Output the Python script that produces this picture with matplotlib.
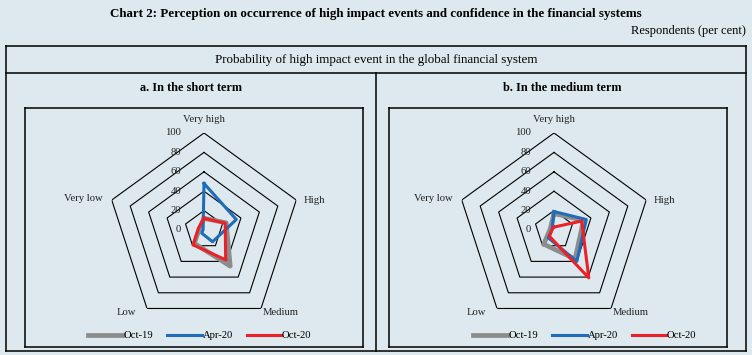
import numpy as np
import matplotlib
matplotlib.use("Agg")
import matplotlib.pyplot as plt
from matplotlib.lines import Line2D

# Data (respondents, per cent)
categories = ["Very high", "High", "Medium", "Low", "Very low"]
series_names = ["Oct-19", "Apr-20", "Oct-20"]
short_oct19 = [12, 24, 46, 17, 5]
short_apr20 = [48, 35, 15, 4, 1]
short_oct20 = [12, 23, 38, 19, 6]
medium_oct19 = [17, 32, 37, 18, 4]
medium_apr20 = [19, 35, 40, 10, 2]
medium_oct20 = [3, 30, 61, 8, 2]
ring_levels = [0, 20, 40, 60, 80, 100]

COLORS = ["#8c8c8c", "#1f6cb8", "#ec2127"]
WIDTHS = [3.4, 2.2, 2.2]
BG = "#dde9ee"
W, H = 752, 355

plt.rcParams["font.family"] = ["Liberation Serif", "DejaVu Serif"]

fig = plt.figure(figsize=(W / 100, H / 100), dpi=100, facecolor=BG)


def fx(x):
    return x / W


def fy(y):
    return 1 - y / H


def hline(x0, x1, y):
    fig.add_artist(Line2D([fx(x0), fx(x1)], [fy(y), fy(y)], color="black", lw=1.1))


def vline(x, y0, y1):
    fig.add_artist(Line2D([fx(x), fx(x)], [fy(y0), fy(y1)], color="black", lw=1.1))


def box(x0, y0, x1, y1):
    hline(x0, x1, y0)
    hline(x0, x1, y1)
    vline(x0, y0, y1)
    vline(x1, y0, y1)


# Frames
box(6, 46, 746, 350.5)
hline(6, 746, 73)
vline(376, 73, 350.5)
box(25, 108, 363, 347)
box(389, 108, 727, 347)

# Headings
fig.text(0.5, fy(14), "Chart 2: Perception on occurrence of high impact events and confidence in the financial systems",
         ha="center", va="center", fontsize=9.4, fontweight="bold")
fig.text(fx(746), fy(31), "Respondents (per cent)", ha="right", va="center", fontsize=9)
fig.text(0.5, fy(60), "Probability of high impact event in the global financial system",
         ha="center", va="center", fontsize=9.4)
fig.text(fx(191), fy(88), "a. In the short term", ha="center", va="center", fontsize=8.8, fontweight="bold")
fig.text(fx(562), fy(88), "b. In the medium term", ha="center", va="center", fontsize=8.8, fontweight="bold")

theta = np.arange(len(categories)) * 2 * np.pi / len(categories)
theta_closed = np.append(theta, theta[0])

# label offsets (points) from each outer vertex
label_off = [(0, 10), (5, 0), (1.5, -3), (-8, -3), (-6.5, 1)]
label_ha = ["center", "left", "left", "right", "right"]


def radar(cx, cy, data, legend_x):
    R = 97
    ax = fig.add_axes([fx(cx - R), fy(cy + R), 2 * R / W, 2 * R / H], projection="polar")
    ax.set_facecolor("none")
    ax.set_theta_zero_location("N")
    ax.set_theta_direction(-1)
    ax.set_ylim(0, 100)
    ax.grid(False)
    ax.spines["polar"].set_visible(False)
    ax.set_xticks([])
    ax.set_yticks([])

    for lvl in ring_levels[1:]:
        ax.plot(theta_closed, [lvl] * len(theta_closed), color="black", lw=0.8, zorder=1)
    for lvl in ring_levels:
        ax.annotate(str(lvl), xy=(0, lvl), xytext=(-16.5, 0), textcoords="offset points",
                    ha="right", va="center", fontsize=7.7, color="#222222")

    for i, cat in enumerate(categories):
        ax.annotate(cat, xy=(theta[i], 100), xytext=label_off[i], textcoords="offset points",
                    ha=label_ha[i], va="center", fontsize=7.7, color="#222222",
                    annotation_clip=False)

    handles = []
    for vals, name, c, lw in zip(data, series_names, COLORS, WIDTHS):
        v = np.append(vals, vals[0])
        h, = ax.plot(theta_closed, v, color=c, lw=lw, label=name, zorder=3)
        handles.append(h)

    fig.legend(handles=handles, loc="center", bbox_to_anchor=(fx(legend_x), fy(335.5)),
               ncol=3, frameon=False, fontsize=7.7, handlelength=3.2, handletextpad=0.1,
               columnspacing=1.3)
    return ax


radar(204, 230, [short_oct19, short_apr20, short_oct20], 200)
radar(554, 230, [medium_oct19, medium_apr20, medium_oct20], 585)

fig.savefig("out.png", dpi=100, facecolor=BG)
